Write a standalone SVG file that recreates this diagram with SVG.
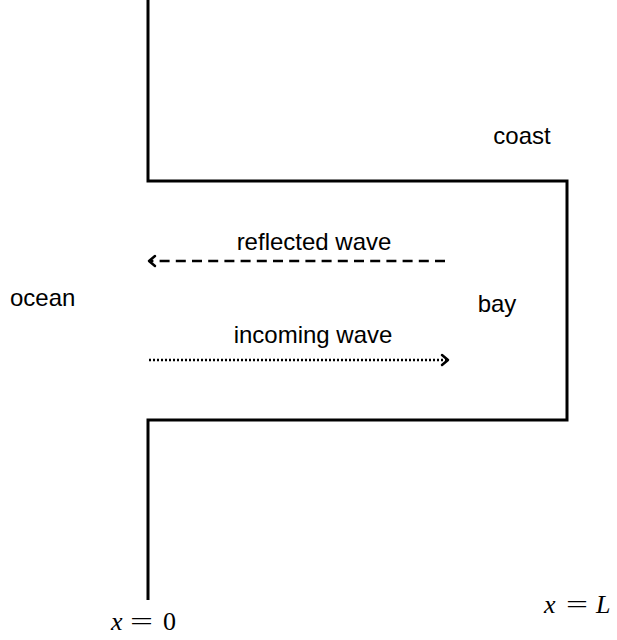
<svg xmlns="http://www.w3.org/2000/svg" width="617" height="640" viewBox="0 0 617 640">
<style>
.t{font-family:"Liberation Sans",Arial,sans-serif;font-size:24px;fill:#000}
.m{font-family:"Liberation Serif","Times New Roman",serif;font-size:26px;fill:#000}
.i{font-style:italic}
.wall{fill:none;stroke:#000;stroke-width:3}
.ar{fill:none;stroke:#000;stroke-width:2.5}
.hd{fill:none;stroke:#000;stroke-width:2.5;stroke-linecap:round;stroke-linejoin:round}
</style>
<rect width="617" height="640" fill="#fff"/>
<g id="coastline">
<path class="wall" d="M148,0 V181 H567 V420 H148 V600"/>
</g>
<g id="connectors">
<g id="reflected">
<line class="ar" x1="445" y1="261" x2="151" y2="261" stroke-dasharray="10,6.2"/>
<path class="hd" d="M155,256 L149,261 L155,266"/>
</g>
<g id="incoming">
<line class="ar" x1="149" y1="360" x2="446" y2="360" stroke-dasharray="2,2"/>
<path class="hd" d="M442,355 L448,360 L442,365"/>
</g>
</g>
<g id="labels">
<text class="t" x="522" y="144" text-anchor="middle">coast</text>
<text class="t" x="314" y="250" text-anchor="middle">reflected wave</text>
<text class="t" x="10" y="306">ocean</text>
<text class="t" x="497" y="312" text-anchor="middle">bay</text>
<text class="t" x="313" y="343" text-anchor="middle">incoming wave</text>
<g id="x0">
<text class="m i" x="111" y="630">x</text>
<text class="m" x="130" y="630" textLength="23" lengthAdjust="spacingAndGlyphs">=</text>
<text class="m" x="163" y="630">0</text>
</g>
<g id="xL">
<text class="m i" x="544" y="613">x</text>
<text class="m" x="566" y="613" textLength="22" lengthAdjust="spacingAndGlyphs">=</text>
<text class="m i" x="596" y="613">L</text>
</g>
</g>
</svg>
